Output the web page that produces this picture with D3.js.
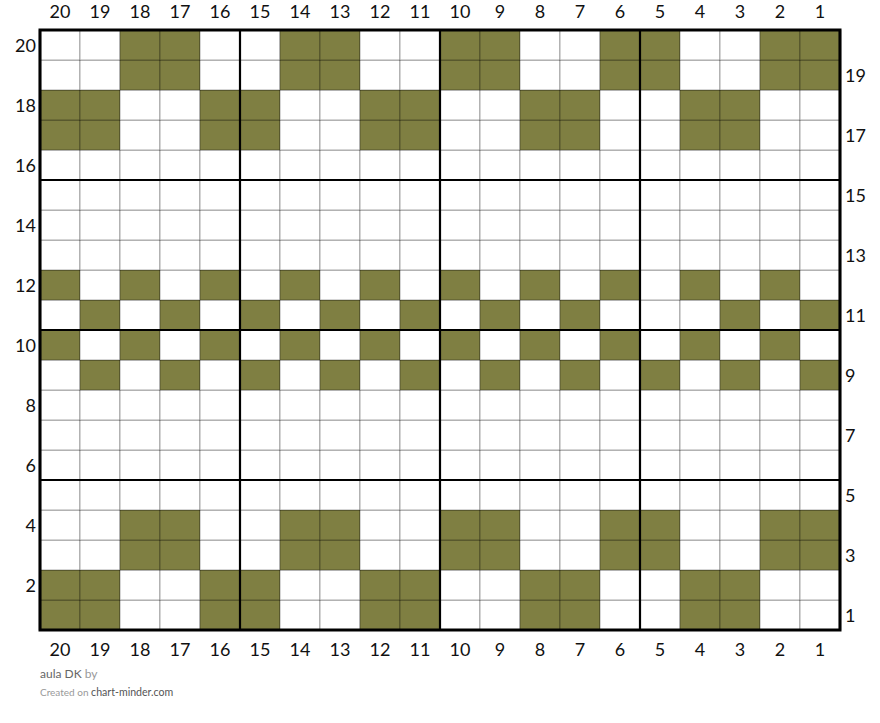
<!DOCTYPE html>
<html><head><meta charset="utf-8">
<script src="https://cdn.jsdelivr.net/npm/d3@7"></script>
<style>body{margin:0;background:#fff;} svg{display:block;}</style>
</head><body>
<svg id="c" width="880" height="723"></svg>
<script>
// Column labels (left to right) and row numbers (bottom to top)
const columns = d3.range(20, 0, -1);  // 20..1
const rows = d3.range(1, 21);         // 1..20
// Colored (contrast) stitches per row: row number -> list of column numbers
const row1  = [20,19,16,15,12,11,8,7,4,3];
const row2  = [20,19,16,15,12,11,8,7,4,3];
const row3  = [18,17,14,13,10,9,6,5,2,1];
const row4  = [18,17,14,13,10,9,6,5,2,1];
const row9  = [19,17,15,13,11,9,7,5,3,1];
const row10 = [20,18,16,14,12,10,8,6,4,2];
const row11 = [19,17,15,13,11,9,7,3,1];
const row12 = [20,18,16,14,12,10,8,6,4,2];
const row17 = [20,19,16,15,12,11,8,7,4,3];
const row18 = [20,19,16,15,12,11,8,7,4,3];
const row19 = [18,17,14,13,10,9,6,5,2,1];
const row20 = [18,17,14,13,10,9,6,5,2,1];
const colored = {1:row1,2:row2,3:row3,4:row4,9:row9,10:row10,11:row11,12:row12,17:row17,18:row18,19:row19,20:row20};
const leftLabels = [20,18,16,14,12,10,8,6,4,2];
const rightLabels = [19,17,15,13,11,9,7,5,3,1];

const svg = d3.select("#c");
const x0 = 40, x1 = 840, y0 = 30, y1 = 630;
const x = d3.scaleBand().domain(columns).range([x0, x1]);
const y = d3.scaleBand().domain(rows.slice().reverse()).range([y0, y1]);
const FILL = "#7f7f42";

const cells = [];
rows.forEach(r => columns.forEach(c => cells.push({r, c, on: (colored[r]||[]).includes(c)})));

svg.append("g").selectAll("rect").data(cells).join("rect")
  .attr("x", d => x(d.c)).attr("y", d => y(d.r))
  .attr("width", x.bandwidth()).attr("height", y.bandwidth())
  .attr("fill", d => d.on ? FILL : "#fff")
  .attr("stroke", "rgba(0,0,0,0.33)").attr("stroke-width", 1);

// thick lines every 5 stitches
const g = svg.append("g").attr("stroke", "#000").attr("stroke-width", 2.2);
[20,15,10,5].forEach(c => g.append("line").attr("x1", x(c)).attr("x2", x(c)).attr("y1", y0).attr("y2", y1));
g.append("line").attr("x1", x1).attr("x2", x1).attr("y1", y0).attr("y2", y1);
[20,15,10,5].forEach(r => g.append("line").attr("y1", y(r)).attr("y2", y(r)).attr("x1", x0).attr("x2", x1));
g.append("line").attr("y1", y1).attr("y2", y1).attr("x1", x0).attr("x2", x1);
svg.append("rect").attr("x", x0).attr("y", y0).attr("width", x1-x0).attr("height", y1-y0)
  .attr("fill", "none").attr("stroke", "#000").attr("stroke-width", 3);

const font = "Lato, 'Open Sans', sans-serif";
const lab = svg.append("g").attr("font-family", font).attr("font-size", 18).attr("fill", "#111");
lab.selectAll("text.top").data(columns).join("text").attr("class","top")
  .attr("x", d => x(d) + x.bandwidth()/2).attr("y", 11).attr("text-anchor","middle").attr("dominant-baseline","central").text(d => d);
lab.selectAll("text.bot").data(columns).join("text").attr("class","bot")
  .attr("x", d => x(d) + x.bandwidth()/2).attr("y", 649).attr("text-anchor","middle").attr("dominant-baseline","central").text(d => d);
lab.selectAll("text.left").data(leftLabels).join("text").attr("class","left")
  .attr("x", 36).attr("y", d => y(d) + y.bandwidth()/2).attr("text-anchor","end").attr("dominant-baseline","central").text(d => d);
lab.selectAll("text.right").data(rightLabels).join("text").attr("class","right")
  .attr("x", 845).attr("y", d => y(d) + y.bandwidth()/2).attr("text-anchor","start").attr("dominant-baseline","central").text(d => d);

const f1 = svg.append("text").attr("x", 40).attr("y", 678).attr("font-family", font).attr("font-size", 12);
f1.append("tspan").attr("fill", "#666").text("aula DK ");
f1.append("tspan").attr("fill", "#999").text("by");
const f2 = svg.append("text").attr("x", 40).attr("y", 696).attr("font-family", font);
f2.append("tspan").attr("fill", "#999").attr("font-size", 10).text("Created on ");
f2.append("tspan").attr("fill", "#555").attr("font-size", 10.6).text("chart-minder.com");
</script>
</body></html>
